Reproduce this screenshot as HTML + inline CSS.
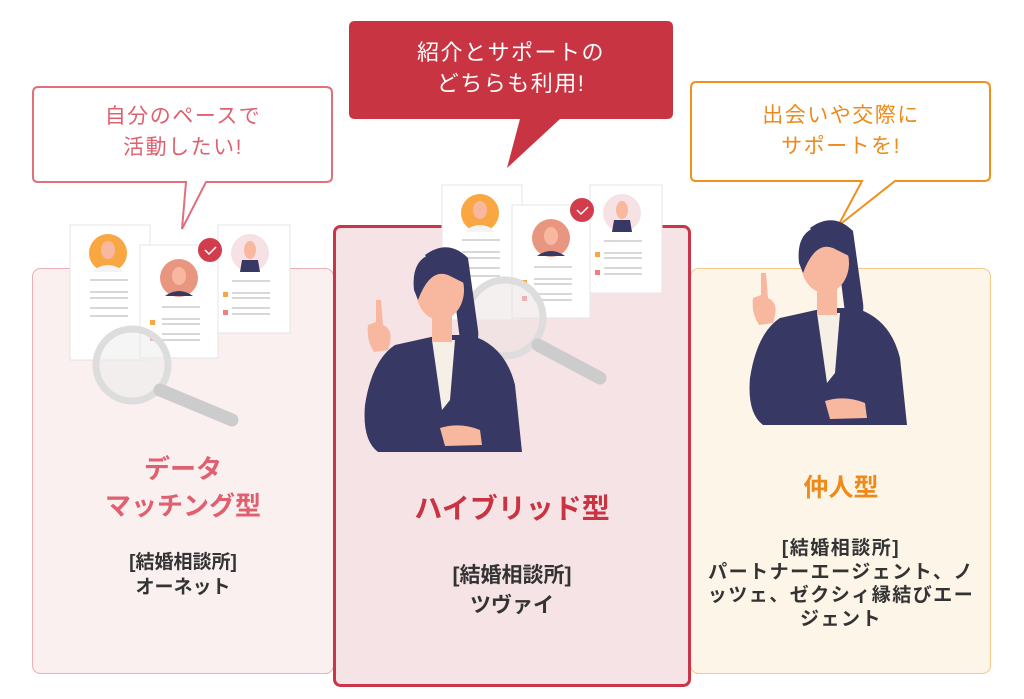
<!DOCTYPE html>
<html><head><meta charset="utf-8"><style>
body{margin:0;width:1024px;height:699px;background:#fff;overflow:hidden;position:relative;font-family:"Liberation Sans","Noto Sans CJK JP",sans-serif}
.t{position:absolute;text-align:center;font-weight:bold;white-space:nowrap}
.n{font-weight:normal}
.b{font-weight:bold;color:#333}
</style></head><body>
<svg width="1024" height="699" style="position:absolute;left:0;top:0">
<defs>
<g id="woman">
 <path d="M415 452 L378 452 Q362 440 365 405 Q372 360 395 345 L440 335 L470 335 Q505 345 515 385 L522 452 Z" fill="#373863"/>
 <path d="M432 340 L455 340 L450 400 L442 410 Z" fill="#f5efe6"/>
 <rect x="432" y="310" width="20" height="32" fill="#f8b8a0"/>
 <path d="M425 255 Q448 238 468 258 L478 330 Q480 345 470 345 L460 340 L455 300 Z" fill="#373863"/>
 <ellipse cx="440" cy="290" rx="24" ry="30" fill="#f8b8a0"/>
 <path d="M414 290 Q410 252 445 252 Q470 254 468 285 L448 275 Q430 268 418 300 Z" fill="#373863"/>
 <path d="M376 300 L381 300 L383 325 Q395 330 388 350 L374 352 Q366 340 368 325 L376 322 Z" fill="#f8b8a0"/>
 <path d="M440 428 Q460 422 480 430 L482 445 L445 446 Z" fill="#f8b8a0"/>
</g>
<g id="cards">
 <rect x="442" y="185" width="80" height="135" fill="#fff" stroke="#e4e4e4"/>
 <circle cx="480" cy="213" r="19" fill="#f9a743"/>
 <ellipse cx="480" cy="210" rx="7" ry="9" fill="#f8b8a0"/><path d="M466 230 Q480 220 494 230 L494 232 L466 232Z" fill="#f4f4f4"/>
 <path d="M462 240h38M462 252h38M462 258h38M462 268h38M462 276h38" stroke="#ccc" stroke-width="1.5"/>
 <rect x="590" y="185" width="72" height="108" fill="#fff" stroke="#e4e4e4"/>
 <circle cx="622" cy="213" r="19" fill="#f6e2e4"/>
 <ellipse cx="622" cy="210" rx="6" ry="9" fill="#f8b8a0"/><path d="M612 232 L614 220 L630 220 L632 232Z" fill="#373863"/>
 <path d="M604 241h38M604 253h38M604 258h38M604 268h38M604 274h38" stroke="#ccc" stroke-width="1.5"/>
 <rect x="595" y="252" width="5" height="5" fill="#f9a743"/><rect x="595" y="270" width="5" height="5" fill="#f08080"/>
 <rect x="512" y="205" width="78" height="113" fill="#fff" stroke="#e4e4e4"/>
 <circle cx="551" cy="238" r="19" fill="#e99680"/>
 <ellipse cx="551" cy="236" rx="7" ry="9" fill="#f8b8a0"/><path d="M537 256 Q551 246 565 256Z" fill="#373863"/>
 <path d="M534 267h38M534 279h38M534 284h38M534 294h38M534 300h38" stroke="#ccc" stroke-width="1.5"/>
 <rect x="522" y="280" width="5" height="5" fill="#f9a743"/><rect x="522" y="296" width="5" height="5" fill="#f08080"/>
 <circle cx="582" cy="210" r="12" fill="#d13d4c"/><path d="M577 210 l4 4 l7 -7" stroke="#fff" stroke-width="1.5" fill="none"/>
</g>
</defs>
<rect x="32.5" y="268.5" width="301" height="405" rx="8" fill="#faf0f0" stroke="#eab0b5"/>
<rect x="690.5" y="268.5" width="300" height="405" rx="8" fill="#fcf5e8" stroke="#f5c88a"/>
<rect x="334.5" y="226.5" width="355" height="459" rx="6" fill="#f6e3e5" stroke="#c9364a" stroke-width="3"/>
<path d="M38 87 H326 Q332 87 332 93 V177 Q332 182 326 182 H206 L182 229 L186 182 H38 Q33 182 33 177 V93 Q33 87 38 87Z" fill="#fff" stroke="#e0707a" stroke-width="2"/>
<path d="M355 21 H667 Q673 21 673 27 V113 Q673 119 667 119 H560 L507 168 L520 119 H355 Q349 119 349 113 V27 Q349 21 355 21Z" fill="#c93442"/>
<path d="M696 82 H984 Q990 82 990 88 V176 Q990 181 984 181 H895 L838 226 L862 181 H696 Q691 181 691 176 V88 Q691 82 696 82Z" fill="#fff" stroke="#f0901e" stroke-width="2"/>
<use href="#cards" transform="translate(-372,40)"/>
<circle cx="132" cy="365" r="36" fill="rgba(235,235,235,0.5)" stroke="#ddd" stroke-width="7"/>
<path d="M160 390 L232 420" stroke="#ccc" stroke-width="13" stroke-linecap="round"/>
<use href="#cards"/>
<circle cx="505" cy="318" r="38" fill="rgba(235,225,225,0.5)" stroke="#ddd" stroke-width="7"/>
<path d="M538 345 L600 378" stroke="#ccc" stroke-width="13" stroke-linecap="round"/>
<use href="#woman"/>
<use href="#woman" transform="translate(385,-27)"/>
</svg>
<div class="t n" style="left:33px;width:300px;top:101px;font-size:21px;letter-spacing:1.5px;line-height:31px;color:#e0606e">自分のペースで<br>活動したい!</div>
<div class="t n" style="left:349px;width:324px;top:37px;font-size:22px;letter-spacing:1.5px;line-height:31px;color:#fff">紹介とサポートの<br>どちらも利用!</div>
<div class="t n" style="left:691px;width:300px;top:100px;font-size:21px;letter-spacing:1.5px;line-height:31px;color:#ee8a1a">出会いや交際に<br>サポートを!</div>
<div class="t" style="left:33px;width:300px;top:451px;font-size:26px;line-height:37px;color:#e06070">データ<br>マッチング型</div>
<div class="t b" style="left:33px;width:300px;top:550px;font-size:19px;line-height:25px">[結婚相談所]<br>オーネット</div>
<div class="t" style="left:334px;width:356px;top:490px;font-size:28px;line-height:38px;color:#c93442">ハイブリッド型</div>
<div class="t b" style="left:334px;width:356px;top:561px;font-size:21px;line-height:30px">[結婚相談所]<br>ツヴァイ</div>
<div class="t" style="left:691px;width:300px;top:471px;font-size:25px;line-height:34px;color:#ee8a1a">仲人型</div>
<div class="t b" style="left:691px;width:300px;top:537px;font-size:19px;letter-spacing:1.5px;line-height:23.5px">[結婚相談所]<br>パートナーエージェント、ノ<br>ッツェ、ゼクシィ縁結びエー<br>ジェント</div>
</body></html>
